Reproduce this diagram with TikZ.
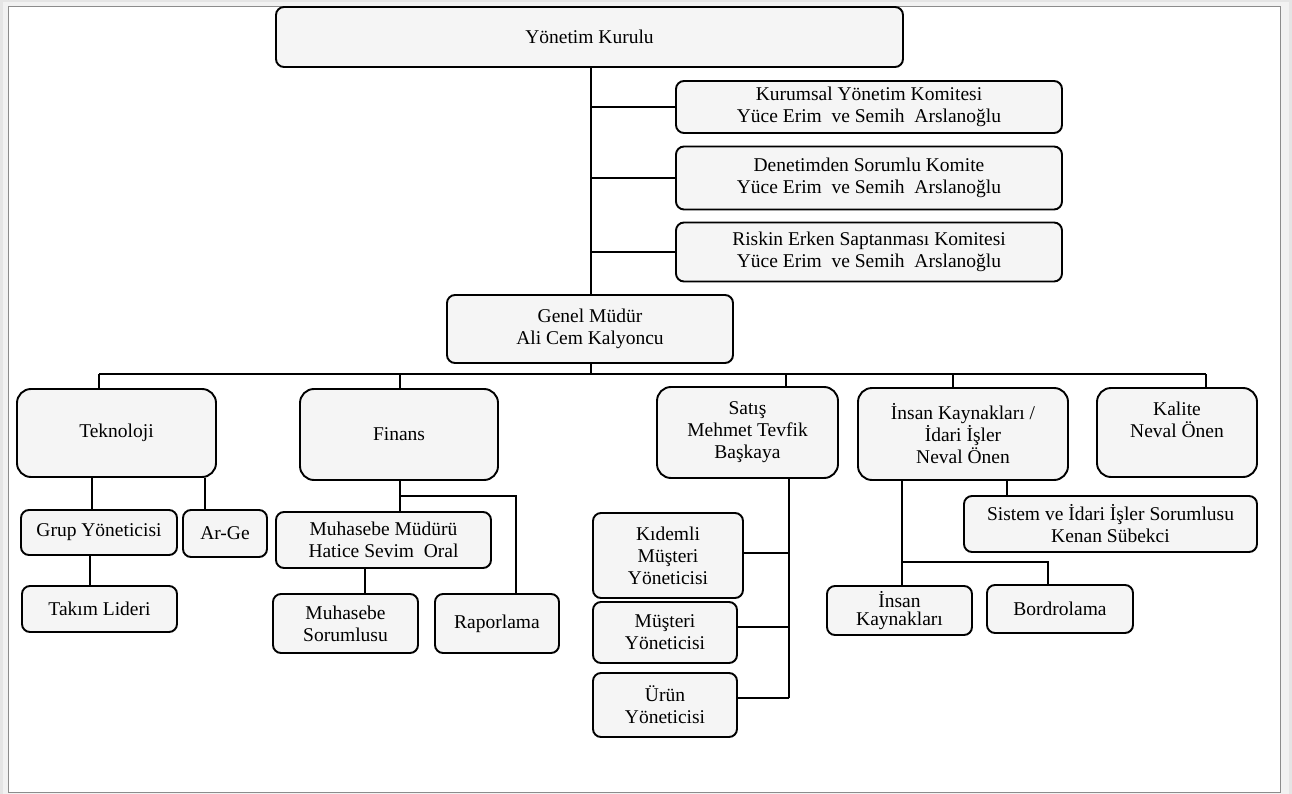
\documentclass[tikz,border=0pt]{standalone}
\usepackage{fontspec}
\setmainfont{Liberation Serif}
\begin{document}
\begin{tikzpicture}[x=1pt,y=-1pt,
  box/.style={draw=black, fill=black!4, line width=1.9pt, rounded corners=8pt,
    align=center, inner sep=0pt, font=\fontsize{19.5}{22}\selectfont},
  bigbox/.style={box, rounded corners=14pt},
  link/.style={draw=black, line width=2pt}]
% background and frame
\fill[black!10] (0,0) rectangle (1292,794);
\fill[black!5] (3,2) rectangle (1289,794);
\filldraw[fill=white, draw=black!45, line width=1pt] (8,7) rectangle (1280,792);
% nodes
\node[box, minimum width=627pt, minimum height=60pt] (yk) at (589.5,37) {Yönetim Kurulu};
\node[box, minimum width=386pt, minimum height=52pt] (kur) at (869,107) {Kurumsal Yönetim Komitesi\\Yüce Erim \ ve Semih \ Arslanoğlu};
\node[box, minimum width=386pt, minimum height=63pt] (den) at (869,178) {Denetimden Sorumlu Komite\\Yüce Erim \ ve Semih \ Arslanoğlu};
\node[box, minimum width=386pt, minimum height=59pt] (risk) at (869,252) {Riskin Erken Saptanması Komitesi\\Yüce Erim \ ve Semih \ Arslanoğlu};
\node[box, minimum width=286pt, minimum height=68pt] (gm) at (590,329) {Genel Müdür\\Ali Cem Kalyoncu};
\node[bigbox, minimum width=199pt, minimum height=88pt] (tek) at (116.5,433) {Teknoloji};
\node[bigbox, minimum width=198pt, minimum height=91pt] (fin) at (399,434.5) {Finans};
\node[bigbox, minimum width=181pt, minimum height=91pt] (sat) at (747.5,432.5) {Satış\\Mehmet Tevfik\\Başkaya};
\node[bigbox, minimum width=210pt, minimum height=92pt] (ik) at (963,434) {İnsan Kaynakları /\\İdari İşler\\Neval Önen};
\node[bigbox, minimum width=160pt, minimum height=89pt] (kal) at (1177,432.5) {Kalite\\Neval Önen\\[3pt]};
\node[box, minimum width=156pt, minimum height=45pt] (grup) at (99,532.5) {Grup Yöneticisi};
\node[box, minimum width=84pt, minimum height=47pt] (arge) at (225,533.5) {Ar-Ge};
\node[box, minimum width=155pt, minimum height=46pt] (takim) at (99.5,609) {Takım Lideri};
\node[box, minimum width=215pt, minimum height=56pt] (mm) at (383.5,540) {Muhasebe Müdürü\\Hatice Sevim \ Oral};
\node[box, minimum width=145pt, minimum height=59pt] (ms) at (345.5,623.5) {Muhasebe\\Sorumlusu};
\node[box, minimum width=124pt, minimum height=59pt] (rap) at (497,623.5) {Raporlama};
\node[box, minimum width=150pt, minimum height=85pt] (kid) at (668,555.5) {Kıdemli\\Müşteri\\Yöneticisi};
\node[box, minimum width=144pt, minimum height=61pt] (mus) at (665,632.5) {Müşteri\\Yöneticisi};
\node[box, minimum width=144pt, minimum height=64pt] (urun) at (665,705) {Ürün\\Yöneticisi};
\node[box, minimum width=293pt, minimum height=56pt] (sis) at (1110.5,524) {Sistem ve İdari İşler Sorumlusu\\Kenan Sübekci};
\node[box, minimum width=145pt, minimum height=49pt, font=\fontsize{19.5}{18}\selectfont] (ikk) at (899.5,610.5) {İnsan\\Kaynakları};
\node[box, minimum width=146pt, minimum height=48pt] (bor) at (1060,609) {Bordrolama};
% helper coordinates
\coordinate (bus) at (591,374);
\coordinate (busL) at (99,374);
\coordinate (busR) at (1206,374);
\coordinate (finj) at (400,496);
\coordinate (finr) at (516,496);
\coordinate (ikj) at (902,562);
\coordinate (ikr) at (1048,562);
\coordinate (satk) at (789,553);
\coordinate (satm) at (789,627);
\coordinate (satb) at (789,698);
% connectors
\draw[link] (591,0 |- yk.south) -- (591,0 |- gm.north);
\draw[link] (591,0 |- kur.west) -- (kur.west);
\draw[link] (591,0 |- den.west) -- (den.west);
\draw[link] (591,0 |- risk.west) -- (risk.west);
\draw[link] (591,0 |- gm.south) -- (bus);
\draw[link] (busL) -- (busR);
\draw[link] (busL) -- (busL |- tek.north);
\draw[link] (400,374) -- (400,0 |- fin.north);
\draw[link] (786,374) -- (786,0 |- sat.north);
\draw[link] (953,374) -- (953,0 |- ik.north);
\draw[link] (busR) -- (busR |- kal.north);
\draw[link] (92,0 |- tek.south) -- (92,0 |- grup.north);
\draw[link] (205,0 |- tek.south) -- (205,0 |- arge.north);
\draw[link] (90,0 |- grup.south) -- (90,0 |- takim.north);
\draw[link] (400,0 |- fin.south) -- (400,0 |- mm.north);
\draw[link] (finj) -- (finr) -- (finr |- rap.north);
\draw[link] (365,0 |- mm.south) -- (365,0 |- ms.north);
\draw[link] (789,0 |- sat.south) -- (satb);
\draw[link] (satk) -- (kid.east |- satk);
\draw[link] (satm) -- (mus.east |- satm);
\draw[link] (satb) -- (urun.east |- satb);
\draw[link] (1007,0 |- ik.south) -- (1007,0 |- sis.north);
\draw[link] (902,0 |- ik.south) -- (902,0 |- ikk.north);
\draw[link] (ikj) -- (ikr) -- (ikr |- bor.north);
\end{tikzpicture}
\end{document}
